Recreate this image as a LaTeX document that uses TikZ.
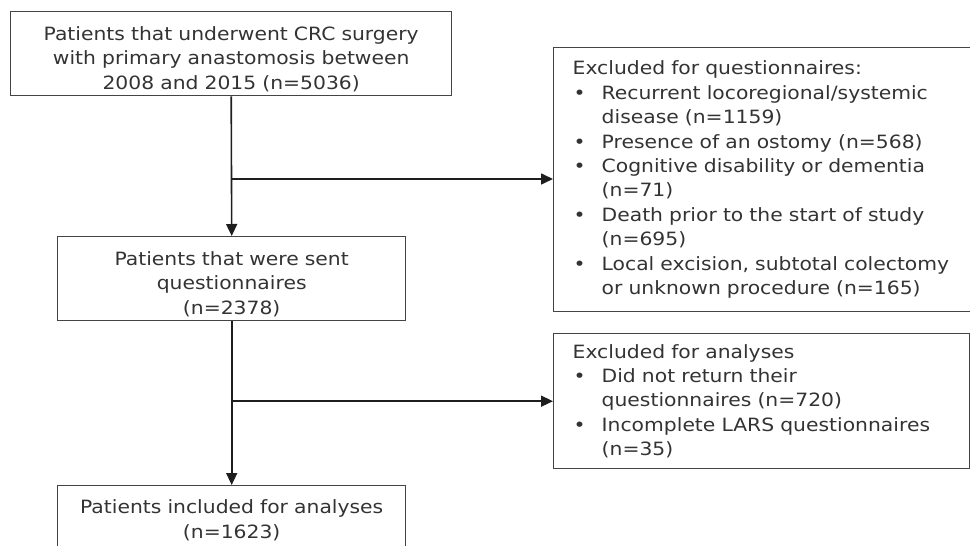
\documentclass[tikz,border=0pt]{standalone}
\usepackage{fontspec}
\setmainfont{DejaVu Sans}[FakeStretch=1.11]
\usetikzlibrary{arrows.meta}
\definecolor{txt}{HTML}{333333}
\definecolor{edge}{HTML}{444444}
\definecolor{arr}{HTML}{1E1E1E}
\newcommand\bul{\makebox[29pt][l]{\hspace{1pt}•}}
\newcommand\ind{\hspace*{29pt}}
\newcommand\topstrut{\rule{0pt}{25pt}}
\tikzset{
  box/.style={draw=edge, line width=1.4pt, rectangle, inner ysep=0pt, text=txt,
    font=\fontsize{18.3}{24.4}\selectfont},
  cbox/.style={box, align=center},
  lbox/.style={box, align=left, inner xsep=19pt},
  flow/.style={draw=arr, line width=1.6pt, -{Triangle[length=12pt,width=11pt]}}
}
\begin{document}
\begin{tikzpicture}[x=1pt,y=-1pt]
\useasboundingbox (0,0) rectangle (970,546);
\node[cbox, anchor=north west, minimum width=441pt, minimum height=84pt, text width=431pt] (p1) at (10,11)
  {\topstrut Patients that underwent CRC surgery\\with primary anastomosis between\\2008 and 2015 (n=5036)};
\node[cbox, anchor=north west, minimum width=348pt, minimum height=84pt, text width=338pt] (p2) at (57,236)
  {\topstrut Patients that were sent\\questionnaires\\(n=2378)};
\node[cbox, anchor=north west, minimum width=348pt, minimum height=69pt, text width=338pt] (p3) at (57,485)
  {Patients included for analyses\\(n=1623)};
\node[lbox, anchor=north west, minimum height=264pt, text width=380pt] (e1) at (553,47)
  {Excluded for questionnaires:\\
   \bul Recurrent locoregional/systemic\\
   \ind disease (n=1159)\\
   \bul Presence of an ostomy (n=568)\\
   \bul Cognitive disability or dementia\\
   \ind (n=71)\\
   \bul Death prior to the start of study\\
   \ind (n=695)\\
   \bul Local excision, subtotal colectomy\\
   \ind or unknown procedure (n=165)};
\node[lbox, anchor=north west, minimum height=135pt, text width=378pt] (e2) at (553,333)
  {Excluded for analyses\\
   \bul Did not return their\\
   \ind questionnaires (n=720)\\
   \bul Incomplete LARS questionnaires\\
   \ind (n=35)};
\coordinate (b1) at (p1.south |- 0,179);
\draw[flow] (p1.south) -- (p2.north);
\draw[flow] (p2.south) -- (p3.north);
\draw[flow] (b1) -- (b1 -| e1.west);
\draw[flow] (p2.south |- e2.west) -- (e2.west);
\end{tikzpicture}
\end{document}
